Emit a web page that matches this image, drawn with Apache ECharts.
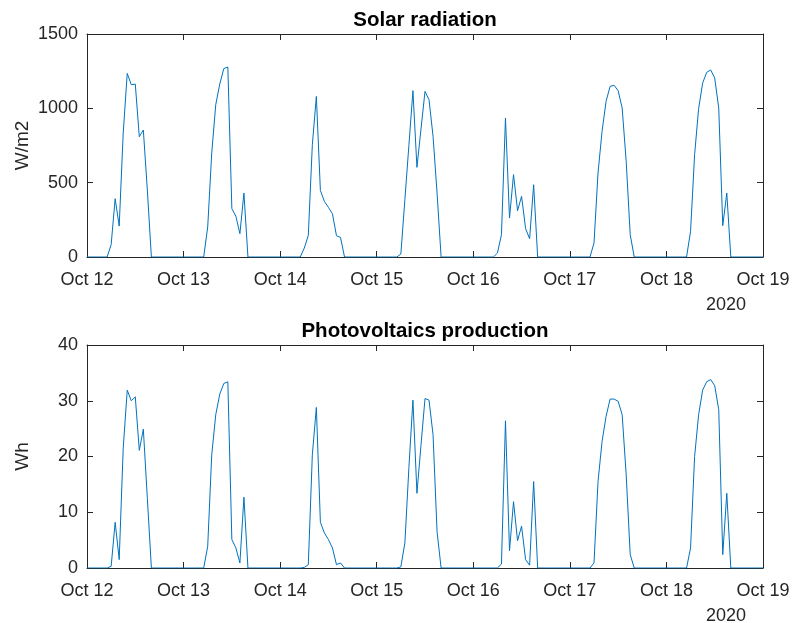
<!DOCTYPE html>
<html><head><meta charset="utf-8">
<script src="https://cdn.jsdelivr.net/npm/echarts@6/dist/echarts.min.js"></script>
<style>html,body{margin:0;padding:0;background:#fff}#c{width:793px;height:623px}</style>
</head><body><div id="c"></div>
<script>
// x tick labels (one per day, every 24 hours)
const tickLabels = ['Oct 12','Oct 13','Oct 14','Oct 15','Oct 16','Oct 17','Oct 18','Oct 19'];
const yearLabel = '2020';
const titleTop = 'Solar radiation';
const titleBottom = 'Photovoltaics production';
const yNameTop = 'W/m2';
const yNameBottom = 'Wh';

// Solar radiation (W/m2), hourly, hours 0..23 of each day
const radOct12 = [0,0,0,0,0,0,83,392,208,834,1235,1159,1163,809,854,450,0,0,0,0,0,0,0,0];
const radOct13 = [0,0,0,0,0,0,202,700,1025,1164,1267,1278,325,274,157,430,0,0,0,0,0,0,0,0];
const radOct14 = [0,0,0,0,0,0,60,145,755,1080,448,374,334,291,143,132,0,0,0,0,0,0,0,0];
const radOct15 = [0,0,0,0,0,0,20,386,751,1119,603,860,1114,1058,812,430,0,0,0,0,0,0,0,0];
const radOct16 = [0,0,0,0,0,0,27,150,935,262,554,312,408,191,123,486,0,0,0,0,0,0,0,0];
const radOct17 = [0,0,0,0,0,0,94,565,845,1047,1148,1155,1119,1002,643,150,0,0,0,0,0,0,0,0];
const radOct18 = [0,0,0,0,0,0,173,688,998,1170,1242,1258,1204,1002,211,430,0,0,0,0,0,0,0,0];
const radOct19 = [0];

// Photovoltaics production (Wh), hourly
const pvOct12 = [0,0,0,0,0,0,0.3,8.2,1.5,21.5,31.9,30.0,30.7,21.1,24.9,12.5,0,0,0,0,0,0,0,0];
const pvOct13 = [0,0,0,0,0,0,3.9,20.3,27.5,31.2,33.1,33.4,5.1,3.6,0.9,12.7,0,0,0,0,0,0,0,0];
const pvOct14 = [0,0,0,0,0,0,0.1,0.6,20.3,28.8,8.2,6.3,5.1,3.6,0.6,0.9,0,0,0,0,0,0,0,0];
const pvOct15 = [0,0,0,0,0,0,0.2,4.5,18.0,30.1,13.4,22.0,30.4,30.1,23.9,6.5,0,0,0,0,0,0,0,0];
const pvOct16 = [0,0,0,0,0,0,0,0.7,26.4,3.1,11.9,4.9,7.5,1.5,0.5,15.5,0,0,0,0,0,0,0,0];
const pvOct17 = [0,0,0,0,0,0,0.9,15.5,22.7,27.2,30.3,30.3,29.9,27.5,16.7,2.4,0,0,0,0,0,0,0,0];
const pvOct18 = [0,0,0,0,0,0,3.6,20.0,27.5,31.9,33.4,33.8,32.7,28.4,2.4,13.4,0,0,0,0,0,0,0,0];
const pvOct19 = [0];

const radiation = [].concat(radOct12,radOct13,radOct14,radOct15,radOct16,radOct17,radOct18,radOct19);
const production = [].concat(pvOct12,pvOct13,pvOct14,pvOct15,pvOct16,pvOct17,pvOct18,pvOct19);
const radPairs = radiation.map((v,i)=>[i,v]);
const pvPairs = production.map((v,i)=>[i,v]);

const FONT = 'Liberation Sans, Arial, Helvetica, sans-serif';
const AX = '#262626';
const LINE = '#0072BD';

function xAxes(gi){
  return [
    {type:'value', gridIndex:gi, min:0, max:168, interval:24, position:'bottom',
     axisLine:{show:true, onZero:false, lineStyle:{color:AX,width:1}},
     axisTick:{show:true, inside:true, length:6, lineStyle:{color:AX}},
     axisLabel:{show:true, margin:14, color:AX, fontSize:18, fontFamily:FONT,
       formatter:(v)=>tickLabels[Math.round(v/24)]},
     splitLine:{show:false}},
    {type:'value', gridIndex:gi, min:0, max:168, interval:24, position:'top',
     axisLine:{show:true, onZero:false, lineStyle:{color:AX,width:1}},
     axisTick:{show:true, inside:true, length:6, lineStyle:{color:AX}},
     axisLabel:{show:false}, splitLine:{show:false}}
  ];
}
function yAxes(gi, max, interval, name){
  return [
    {type:'value', gridIndex:gi, min:0, max:max, interval:interval, position:'left',
     name:name, nameLocation:'middle', nameGap:55, nameMoveOverlap:false,
     nameTextStyle:{color:AX, fontSize:19, fontFamily:FONT},
     axisLine:{show:true, onZero:false, lineStyle:{color:AX,width:1}},
     axisTick:{show:true, inside:true, length:6, lineStyle:{color:AX}},
     axisLabel:{show:true, margin:9, color:AX, fontSize:18, fontFamily:FONT,
       formatter:(v)=>String(v)},
     splitLine:{show:false}},
    {type:'value', gridIndex:gi, min:0, max:max, interval:interval, position:'right',
     axisLine:{show:true, onZero:false, lineStyle:{color:AX,width:1}},
     axisTick:{show:true, inside:true, length:6, lineStyle:{color:AX}},
     axisLabel:{show:false}, splitLine:{show:false}}
  ];
}

const chart = echarts.init(document.getElementById('c'), null, {renderer:'canvas'});
chart.setOption({
  animation:false,
  backgroundColor:'#fff',
  title:[
    {text:titleTop, left:425, top:10, padding:0, textAlign:'center',
     textStyle:{fontSize:20.5, fontWeight:'bold', color:'#000', fontFamily:FONT}},
    {text:titleBottom, left:425, top:321, padding:0, textAlign:'center',
     textStyle:{fontSize:20.5, fontWeight:'bold', color:'#000', fontFamily:FONT}},
    {text:yearLabel, left:726, top:296, padding:0, textAlign:'center',
     textStyle:{fontSize:18, fontWeight:'normal', color:AX, fontFamily:FONT}},
    {text:yearLabel, left:726, top:607, padding:0, textAlign:'center',
     textStyle:{fontSize:18, fontWeight:'normal', color:AX, fontFamily:FONT}}
  ],
  grid:[
    {left:87, right:30, top:34, height:223},
    {left:87, right:30, top:345, height:223}
  ],
  xAxis:[].concat(xAxes(0), xAxes(1)),
  yAxis:[].concat(yAxes(0,1500,500,yNameTop), yAxes(1,40,10,yNameBottom)),
  series:[
    {type:'line', xAxisIndex:0, yAxisIndex:0, data:radPairs, showSymbol:false,
     lineStyle:{color:LINE, width:1}, itemStyle:{color:LINE}},
    {type:'line', xAxisIndex:2, yAxisIndex:2, data:pvPairs, showSymbol:false,
     lineStyle:{color:LINE, width:1}, itemStyle:{color:LINE}}
  ]
});
</script></body></html>
